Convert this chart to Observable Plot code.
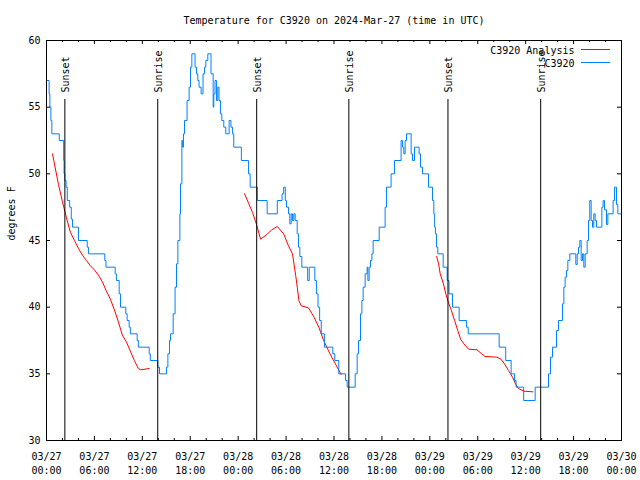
<!DOCTYPE html>
<html><head><meta charset="utf-8">
<script src="https://cdn.jsdelivr.net/npm/d3@7"></script>
<script src="https://cdn.jsdelivr.net/npm/@observablehq/plot@0.6"></script>
<style>body{margin:0;background:#fff}</style>
</head><body><div id="chart"></div>
<script>
const title = "Temperature for C3920 on 2024-Mar-27 (time in UTC)";
const yLabel = "degrees F";
const seriesNames = ["C3920 Analysis", "C3920"];
const seriesColors = ["#ff0000", "#0080ff"];
const yTicks = [30, 35, 40, 45, 50, 55, 60];
const xTickHours = [0, 6, 12, 18, 24, 30, 36, 42, 48, 54, 60, 66, 72];
const xTickLabels = ["03/27\n00:00","03/27\n06:00","03/27\n12:00","03/27\n18:00","03/28\n00:00","03/28\n06:00","03/28\n12:00","03/28\n18:00","03/29\n00:00","03/29\n06:00","03/29\n12:00","03/29\n18:00","03/30\n00:00"];
const xMinorHours = [0,2,4,6,8,10,12,14,16,18,20,22,24,26,28,30,32,34,36,38,40,42,44,46,48,50,52,54,56,58,60,62,64,66,68,70,72];
const sunHours = [2.3, 13.93, 26.32, 37.86, 50.27, 61.88];
const sunLabels = ["Sunset", "Sunrise", "Sunset", "Sunrise", "Sunset", "Sunrise"];

// C3920 station observations: [hours since 03/27 00:00 UTC, °F]
const stationObs = [
[0,57],[0.33,56],[0.42,55],[0.55,54],[0.67,53],[1.6,52.5],[2.15,51],[2.2,50],[2.3,49.5],[2.45,49],[2.6,48],[2.9,47.5],[3.1,46.6],[3.26,46],[4.0,45],[5.1,44.5],[5.25,44],[7.3,43.5],[7.45,43],[8.6,42.5],[8.75,42],[9.1,41],[9.27,40],[9.93,39.5],[10.1,39],[10.35,38.5],[10.5,38],[11.35,37.5],[11.5,37],[12.86,36.5],[13.0,36],[13.94,35.5],[14.15,35],
[15.03,35.5],[15.2,36.5],[15.4,37.5],[15.53,38],[15.86,39.5],[16.1,41.5],[16.28,43.25],[16.45,45],[16.7,47],[16.78,49.25],[16.95,52.5],[17.05,52],[17.15,53],[17.28,54],[17.6,55.5],[17.86,56.5],[18.03,58],[18.2,59],[18.6,58],[18.78,57.5],[18.95,57],[19.1,56.5],[19.36,56],[19.6,57.5],[19.78,58],[19.95,58.5],[20.2,59],[20.6,57.5],[20.87,55],[20.95,56],[21.1,57],[21.28,55.5],[21.45,56.5],[21.6,55.5],[21.78,54.5],[21.95,54],[22.2,53.5],[22.45,53],[22.87,54],[23.1,53.5],[23.3,53],[23.45,52],
[24.4,51],[25.3,50],[25.5,49],[26.4,48],[27.63,47],[28.9,48],[29.5,48.5],[29.7,49],[29.9,48],[30.05,47.5],[30.3,47],[30.47,46.25],[30.64,47],[30.8,46.5],[30.97,47],[31.14,46.5],[31.39,45.5],[31.55,44.5],[31.72,43.8],[31.97,43],[32.7,42],[32.9,43],[33.6,42],[33.8,41],[34.0,40],[34.2,39],[34.4,38],[34.8,37],[35.85,36.5],[36.1,36],[36.6,35],[37.45,34.5],[37.65,34],
[38.65,35],[38.9,36.5],[39.07,37.5],[39.32,39.5],[39.49,40.5],[39.65,41.5],[39.9,42.5],[40.15,43],[40.24,42],[40.4,43],[40.57,43.5],[40.74,44],[40.9,45],[41.66,46],[42.4,47.5],[42.57,49],[43.15,50],[43.57,51],[44.4,52.5],[44.58,52],[44.74,51.5],[44.91,52.5],[45.08,53],[45.66,51.5],[45.83,51],[46.08,52],[46.66,51.5],[46.83,50.5],[47.08,50],[47.83,49],[48.33,48],[48.5,47],[48.6,46],[48.7,45.5],[48.84,44.5],[49.0,44],
[49.67,43],[50.17,42],[50.4,41],[50.84,40],[51.67,39],[52.6,38.5],[52.8,38],[56.68,37],[57.5,36],[58.18,35],[58.6,34.5],[58.8,34],[59.75,33],[61.19,34],
[62.86,35],[63.11,36.25],[63.36,37],[63.86,38.25],[64.11,39],[64.61,40.25],[64.78,41.5],[64.94,42.25],[65.11,42.75],[65.28,43.5],[65.53,44],[66.28,43.2],[66.45,44],[66.62,44.5],[66.78,45],[66.95,43.5],[67.12,44],[67.28,43],[67.45,44],[67.7,45],[67.87,46.5],[68.03,48],[68.2,46.5],[68.37,46],[68.53,47],[68.7,46.5],[68.87,46],[69.54,47.5],[69.7,48],[69.87,47.3],[70.12,46.2],[70.29,47],[70.95,48],[71.12,49],[71.37,47.7],[71.54,47],[72,47]
];

// C3920 Analysis: three separate runs
const analysisRun1 = [[0.75,51.5],[1.5,49.2],[2.0,47.9],[2.5,46.7],[3.0,45.6],[3.5,45.0],[4.0,44.4],[4.5,43.9],[5.0,43.5],[5.5,43.1],[6.0,42.8],[6.5,42.4],[7.0,41.9],[7.5,41.2],[8.0,40.6],[8.5,39.8],[9.0,38.9],[9.5,37.9],[10.0,37.4],[10.5,36.7],[11.0,36.0],[11.5,35.4],[11.8,35.3],[12.86,35.4]];
const analysisRun2 = [[24.8,48.5],[25.3,47.8],[25.8,47.1],[26.3,46.2],[26.8,45.1],[27.5,45.4],[28.2,45.8],[28.9,46.05],[29.7,45.5],[30.3,44.6],[30.8,44.0],[31.2,42.4],[31.4,41.5],[31.6,40.5],[31.9,40.1],[32.8,39.95],[33.5,39.25],[34.1,38.5],[34.7,37.5],[35.5,36.5],[36.4,35.5],[36.9,34.95]];
const analysisRun3 = [[48.85,43.8],[49.1,43.25],[49.3,42.5],[49.7,41.75],[50.0,41.0],[50.3,40.4],[50.7,39.75],[51.1,39.0],[51.5,38.25],[51.85,37.6],[52.26,37.25],[52.85,36.85],[53.9,36.8],[54.5,36.5],[54.9,36.3],[56.4,36.25],[56.9,36.1],[57.35,35.75],[57.85,35.25],[58.35,34.75],[58.77,34.2],[59.1,33.9],[59.77,33.7],[60.9,33.65]];

const obs = stationObs.map(([h, v]) => ({h, v}));
const analysis = [analysisRun1, analysisRun2, analysisRun3].flatMap((run, k) => run.map(([h, v]) => ({h, v, run: k})));
const majorSet = new Set(xTickHours);
const minorOnly = xMinorHours.filter(h => !majorSet.has(h));

const chart = Plot.plot({
  width: 640, height: 480,
  marginLeft: 46, marginRight: 19, marginTop: 40, marginBottom: 40,
  style: {fontFamily: "'DejaVu Sans Mono', monospace", fontSize: "10px", background: "#fff", color: "#000"},
  x: {domain: [0, 72], label: null},
  y: {domain: [30, 60], label: null},
  marks: [
    Plot.line(analysis, {x: "h", y: "v", z: "run", stroke: seriesColors[0], strokeWidth: 1}),
    Plot.line(obs, {x: "h", y: "v", curve: "step-after", stroke: seriesColors[1], strokeWidth: 1}),
    Plot.ruleX(sunHours, {x: d => d, insetTop: 59, stroke: "#000", strokeWidth: 1}),
    Plot.text(sunHours, {x: d => d, text: (d, i) => sunLabels[i], frameAnchor: "top", lineAnchor: "middle", dy: 52, dx: 1, rotate: -90, textAnchor: "start", fill: "#000"}),
    Plot.frame({stroke: "#000", strokeWidth: 1}),
    Plot.ruleX(minorOnly, {x: d => d, y1: 30, y2: 30, insetBottom: 2, stroke: "#000"}),
    Plot.ruleX(minorOnly, {x: d => d, y1: 60, y2: 60, insetTop: 2, stroke: "#000"}),
    Plot.ruleX(xTickHours, {x: d => d, y1: 30, y2: 30, insetBottom: 4, stroke: "#000"}),
    Plot.ruleX(xTickHours, {x: d => d, y1: 60, y2: 60, insetTop: 4, stroke: "#000"}),
    Plot.ruleY(yTicks, {y: d => d, x1: 0, x2: 0, insetLeft: 4, stroke: "#000"}),
    Plot.ruleY(yTicks, {y: d => d, x1: 72, x2: 72, insetRight: 4, stroke: "#000"}),
    Plot.axisX(xTickHours, {tickSize: 0, tickPadding: 10, lineHeight: 1.4, label: null, tickFormat: d => xTickLabels[xTickHours.indexOf(d)]}),
    Plot.axisY(yTicks, {tickSize: 0, tickPadding: 6, label: null, tickFormat: d => String(d)}),
    Plot.text([title], {frameAnchor: "top", lineAnchor: "middle", dy: -20, fill: "#000"}),
    Plot.text([yLabel], {frameAnchor: "left", lineAnchor: "middle", dx: -35, rotate: -90, fill: "#000"}),
    Plot.text([seriesNames[0]], {frameAnchor: "top-right", lineAnchor: "middle", dx: -47, dy: 10, textAnchor: "end", fill: "#000"}),
    Plot.text([seriesNames[1]], {frameAnchor: "top-right", lineAnchor: "middle", dx: -47, dy: 23, textAnchor: "end", fill: "#000"}),
    Plot.ruleY([60], {y: d => d, dy: 9, insetLeft: 535, insetRight: 11, stroke: seriesColors[0], strokeWidth: 1}),
    Plot.ruleY([60], {y: d => d, dy: 22, insetLeft: 535, insetRight: 11, stroke: seriesColors[1], strokeWidth: 1})
  ]
});
document.getElementById("chart").appendChild(chart);
</script>
</body></html>
